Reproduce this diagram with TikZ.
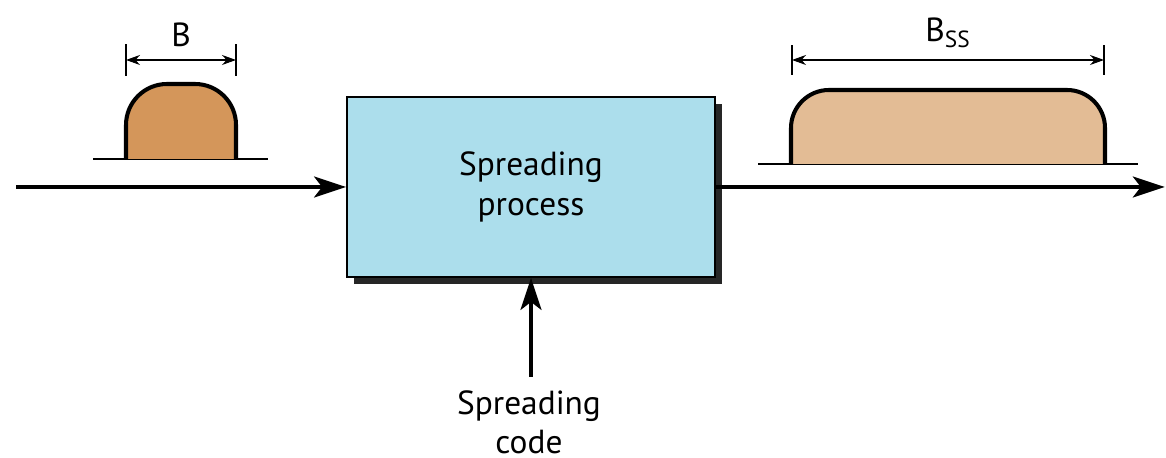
\documentclass[tikz,border=0pt]{standalone}
\usepackage{fontspec}
\setmainfont{PT Sans}
\usetikzlibrary{arrows.meta}
\usetikzlibrary{shadows}
\pgfdeclarelayer{edgelayer}
\pgfdeclarelayer{nodelayer}
\pgfsetlayers{edgelayer,nodelayer,main}
\definecolor{boxblue}{HTML}{ACDEEC}
\definecolor{narrowfill}{HTML}{D4965A}
\definecolor{widefill}{HTML}{E3BC95}
\tikzstyle{none}=[inner sep=0pt]
\tikzstyle{label_text}=[inner sep=0pt,font=\fontsize{19}{22.5}\selectfont,align=center]
\tikzstyle{process}=[draw=black,line width=1.1pt,fill=boxblue,minimum width=7.36cm,minimum height=3.6cm,drop shadow={shadow xshift=0.14cm,shadow yshift=-0.14cm,fill=black!85,opacity=1},font=\fontsize{19}{22.5}\selectfont,align=center]
\tikzstyle{transition}=[-{Stealth[length=0.64cm,width=0.42cm,inset=0.16cm]},draw=black,line width=1.8pt]
\tikzstyle{width_mark}=[{Stealth[length=0.28cm,width=0.2cm]}-{Stealth[length=0.28cm,width=0.2cm]},draw=black,line width=0.6pt]
\tikzstyle{tick}=[draw=black,line width=0.6pt]
\tikzstyle{spectrum}=[draw=black,line width=2.3pt]
\tikzstyle{axis}=[draw=black,line width=1.1pt]

\begin{document}
\begin{tikzpicture}
	\useasboundingbox (0,0) rectangle (23.32,9.16);
	\begin{pgfonlayer}{nodelayer}
		\node [style=process] (0) at (10.62, 5.42) {Spreading\\process};
		\node [style=none] (1) at (0.3, 5.42) {};
		\node [style=none] (2) at (23.32, 5.42) {};
		\node [style={label_text}, anchor=north] (3) at (10.58, 1.36) {Spreading\\code};
		\node [style={label_text}] (4) at (3.62, 8.46) {B};
		\node [style={label_text}] (5) at (18.96, 8.5) {B\textsubscript{SS}};
		\coordinate (6) at (2.52, 7.96);
		\coordinate (7) at (4.72, 7.96);
		\coordinate (8) at (15.84, 7.96);
		\coordinate (9) at (22.08, 7.96);
		\coordinate (10) at (10.62, 1.62);
	\end{pgfonlayer}
	\begin{pgfonlayer}{edgelayer}
		% narrow band
		\draw [style=axis] (1.86, 5.98) -- (5.36, 5.98);
		\draw [style=spectrum, fill=narrowfill, rounded corners=0.82cm] (2.52, 5.98) -- (2.52, 7.48) -- (4.72, 7.48) -- (4.72, 5.98);
		\draw [style=tick] (2.52, 7.64) -- (2.52, 8.28);
		\draw [style=tick] (4.72, 7.64) -- (4.72, 8.28);
		\draw [style={width_mark}] (6) to (7);
		% spread band
		\draw [style=axis] (15.16, 5.88) -- (22.76, 5.88);
		\draw [style=spectrum, fill=widefill, rounded corners=0.76cm] (15.82, 5.88) -- (15.82, 7.36) -- (22.10, 7.36) -- (22.10, 5.88);
		\draw [style=tick] (15.84, 7.66) -- (15.84, 8.26);
		\draw [style=tick] (22.08, 7.66) -- (22.08, 8.26);
		\draw [style={width_mark}] (8) to (9);
	\end{pgfonlayer}
	\draw [style=transition] (1) to (0.west);
	\draw [style=transition] (0.east) to (2);
	\draw [style=transition] (10) to (0.south);
\end{tikzpicture}
\end{document}
